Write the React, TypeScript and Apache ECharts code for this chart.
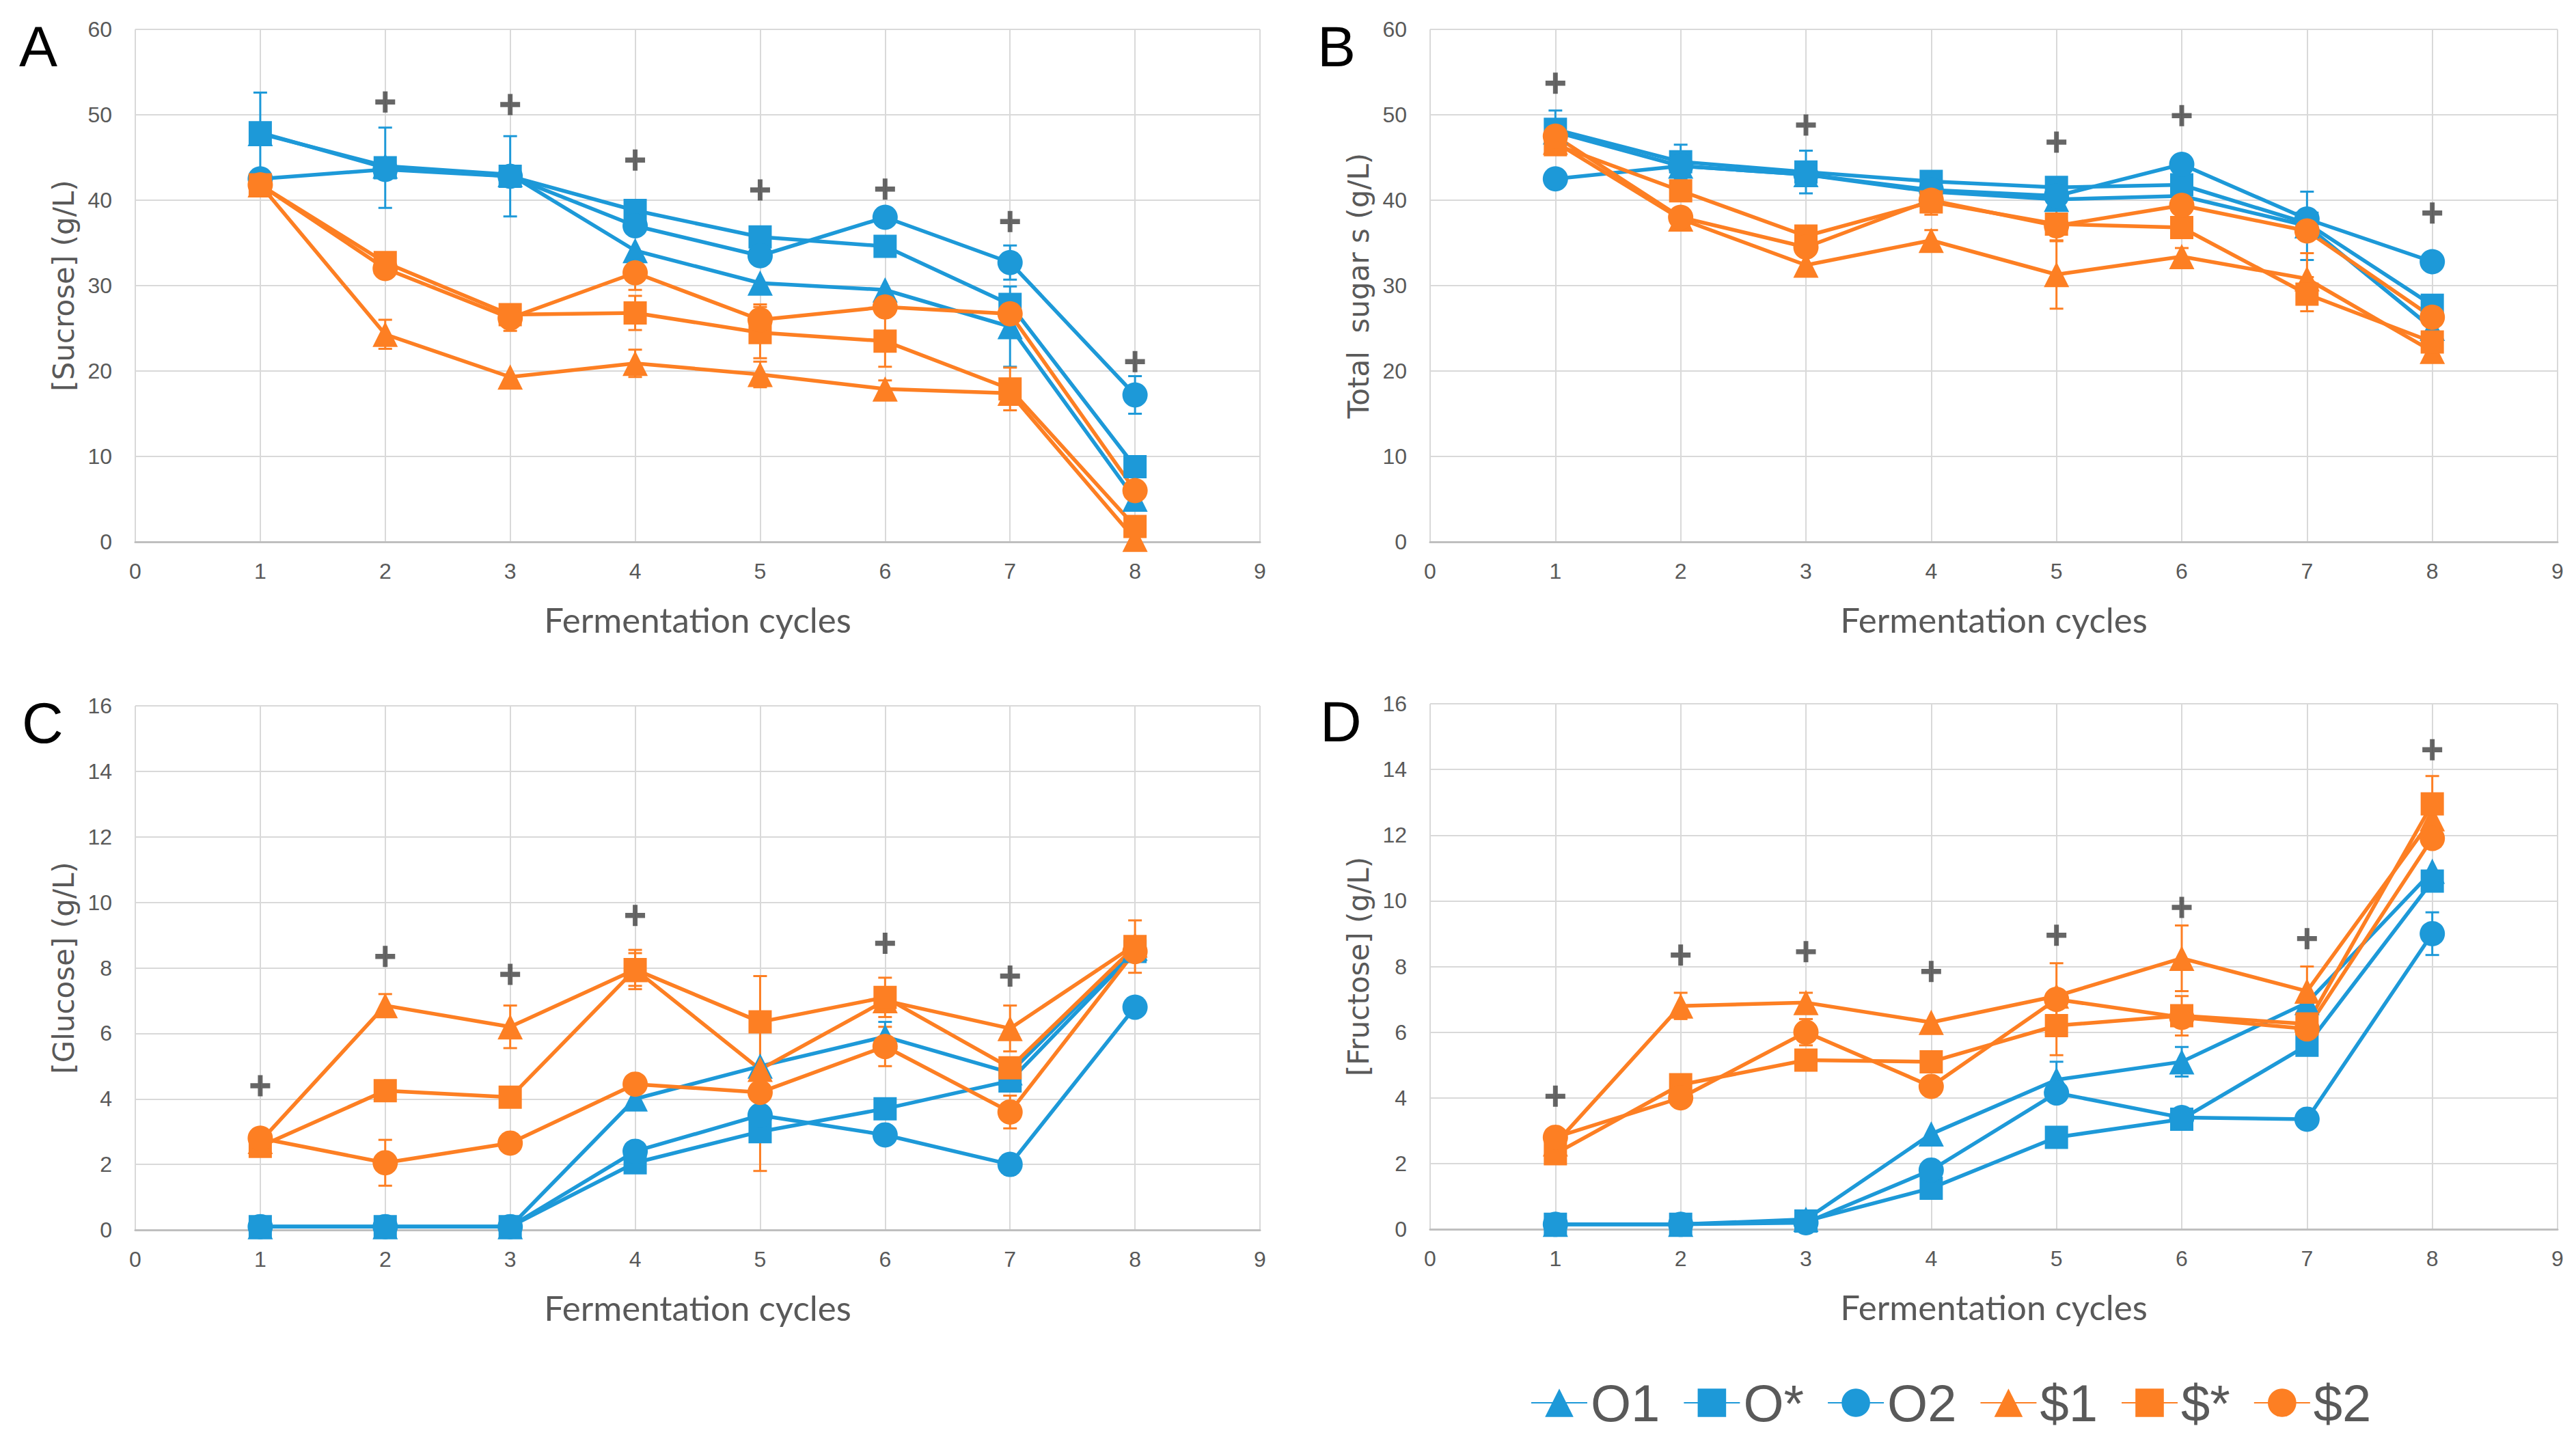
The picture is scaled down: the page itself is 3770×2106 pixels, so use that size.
import React, { useEffect, useRef } from "react";
import * as echarts from "echarts";

const cycles = [1, 2, 3, 4, 5, 6, 7, 8];
const seriesNames = ["O1", "O*", "O2", "$1", "$*", "$2"];
const xTicksMax = 9;

// Panel A: sucrose
const sucO1 = [47.8, 44.0, 43.0, 34.1, 30.3, 29.5, 25.2, 5.0];
const sucOs = [47.9, 43.8, 42.8, 38.8, 35.7, 34.6, 27.8, 8.8];
const sucO2 = [42.5, 43.6, 42.8, 37.0, 33.5, 38.0, 32.7, 17.2];
const suc$1 = [41.8, 24.3, 19.3, 20.9, 19.6, 17.9, 17.4, 0.3];
const suc$s = [41.8, 32.7, 26.6, 26.8, 24.5, 23.5, 17.9, 1.8];
const suc$2 = [41.8, 32.0, 26.2, 31.5, 26.0, 27.5, 26.7, 6.0];
const sucErrO1 = [0, 0, 0, 0, 0, 0, 4.7, 0];
const sucErrOs = [4.7, 4.7, 4.7, 0, 0, 0, 0, 0];
const sucErrO2 = [0, 0, 0, 0, 0, 0, 2.0, 2.2];
const sucErr$1 = [0, 1.7, 0, 1.6, 1.5, 1.0, 0, 0];
const sucErr$s = [0, 0, 0, 2.0, 3.0, 3.0, 2.5, 0];
const sucErr$2 = [0, 0, 1.5, 2.0, 1.8, 1.0, 0, 0];
const sucPlus = [[2, 51.5], [3, 51.2], [4, 44.7], [5, 41.2], [6, 41.3], [7, 37.5], [8, 21.1]];

// Panel B: total sugars
const totO1 = [48.0, 44.0, 43.0, 41.0, 40.1, 40.5, 37.0, 25.0];
const totOs = [48.3, 44.5, 43.3, 42.2, 41.5, 41.8, 37.3, 27.7];
const totO2 = [42.5, 44.0, 43.0, 41.2, 40.5, 44.2, 37.8, 32.8];
const tot$1 = [46.8, 37.8, 32.4, 35.3, 31.3, 33.4, 30.8, 22.3];
const tot$s = [46.5, 41.1, 35.8, 39.8, 37.2, 36.8, 29.0, 23.4];
const tot$2 = [47.5, 38.0, 34.5, 40.0, 37.0, 39.4, 36.4, 26.3];
const totErrO1 = [0, 0, 0, 0, 0, 0, 4.0, 0];
const totErrOs = [2.2, 2.0, 2.5, 0, 0, 0, 0, 0];
const totErrO2 = [0, 0, 0, 0, 0, 0, 0, 0];
const totErr$1 = [0, 0, 0, 1.2, 4.0, 1.0, 3.0, 0];
const totErr$s = [0, 0, 0, 1.5, 2.0, 0, 2.0, 0];
const totErr$2 = [0, 0, 0, 0, 0, 0, 0, 0];
const totPlus = [[1, 53.7], [3, 48.8], [5, 46.8], [6, 49.9], [8, 38.5]];

// Panel C: glucose
const gluO1 = [0.1, 0.1, 0.1, 4.0, 5.0, 5.9, 4.8, 8.6];
const gluOs = [0.1, 0.1, 0.1, 2.05, 3.0, 3.7, 4.55, 8.5];
const gluO2 = [0.1, 0.1, 0.1, 2.4, 3.5, 2.9, 2.0, 6.8];
const glu$1 = [2.7, 6.85, 6.2, 7.95, 4.9, 7.0, 6.15, 8.7];
const glu$s = [2.55, 4.25, 4.05, 7.95, 6.35, 7.1, 4.95, 8.65];
const glu$2 = [2.8, 2.05, 2.65, 4.45, 4.2, 5.6, 3.6, 8.5];
const gluErrO1 = [0, 0, 0, 0, 0, 0.45, 0, 0];
const gluErrOs = [0, 0, 0, 0, 0, 0, 0, 0];
const gluErrO2 = [0, 0, 0, 0, 0, 0, 0, 0];
const gluErr$1 = [0, 0.35, 0.65, 0.5, 0, 0, 0.7, 0];
const gluErr$s = [0, 0, 0, 0.6, 1.4, 0.6, 0, 0.8];
const gluErr$2 = [0, 0.7, 0, 0, 2.4, 0.6, 0.5, 0];
const gluPlus = [[1, 4.4], [2, 8.35], [3, 7.8], [4, 9.6], [6, 8.75], [7, 7.75]];

// Panel D: fructose
const fruO1 = [0.15, 0.15, 0.3, 2.9, 4.55, 5.1, 6.9, 10.9];
const fruOs = [0.15, 0.15, 0.25, 1.25, 2.8, 3.35, 5.6, 10.6];
const fruO2 = [0.15, 0.15, 0.2, 1.8, 4.15, 3.4, 3.35, 9.0];
const fru$1 = [2.6, 6.8, 6.9, 6.3, 7.1, 8.25, 7.25, 12.5];
const fru$s = [2.3, 4.4, 5.15, 5.1, 6.2, 6.5, 6.25, 12.95];
const fru$2 = [2.8, 4.0, 6.0, 4.35, 7.0, 6.45, 6.1, 11.9];
const fruErrO1 = [0, 0, 0, 0, 0.55, 0.45, 0, 0];
const fruErrOs = [0, 0, 0, 0, 0, 0, 0, 0];
const fruErrO2 = [0, 0, 0, 0, 0, 0, 0.2, 0.65];
const fruErr$1 = [0, 0.4, 0.3, 0, 1.0, 1.0, 0.75, 0];
const fruErr$s = [0, 0, 0, 0, 0.9, 0.6, 0.9, 0.85];
const fruErr$2 = [0, 0, 0.4, 0, 0, 0, 0, 0];
const fruPlus = [[1, 4.05], [2, 8.35], [3, 8.45], [4, 7.85], [5, 8.95], [6, 9.8], [7, 8.85], [8, 14.6]];

const panelLetters = ["A", "B", "C", "D"];
const yNames = ["[Sucrose] (g/L)", "Total  sugar s (g/L)", "[Glucose] (g/L)", "[Fructose] (g/L)"];
const yMax = [60, 60, 16, 16];
const yInterval = [10, 10, 2, 2];

const BLUE = "#1D99D8";
const ORANGE = "#FD7F23";
const colors = [BLUE, BLUE, BLUE, ORANGE, ORANGE, ORANGE];
const symbols = ["triangle", "rect", "circle", "triangle", "rect", "circle"];

const panels = [
  { values: [sucO1, sucOs, sucO2, suc$1, suc$s, suc$2], errs: [sucErrO1, sucErrOs, sucErrO2, sucErr$1, sucErr$s, sucErr$2], plus: sucPlus },
  { values: [totO1, totOs, totO2, tot$1, tot$s, tot$2], errs: [totErrO1, totErrOs, totErrO2, totErr$1, totErr$s, totErr$2], plus: totPlus },
  { values: [gluO1, gluOs, gluO2, glu$1, glu$s, glu$2], errs: [gluErrO1, gluErrOs, gluErrO2, gluErr$1, gluErr$s, gluErr$2], plus: gluPlus },
  { values: [fruO1, fruOs, fruO2, fru$1, fru$s, fru$2], errs: [fruErrO1, fruErrOs, fruErrO2, fruErr$1, fruErr$s, fruErr$2], plus: fruPlus },
];

const grids = [
  { left: 198, top: 43, width: 1646, height: 750 },
  { left: 2093, top: 43, width: 1650, height: 750 },
  { left: 198, top: 1033, width: 1646, height: 767 },
  { left: 2093, top: 1030, width: 1650, height: 769 },
];
const letterPos = [
  [28, 26],
  [1928, 26],
  [32, 1016],
  [1932, 1014],
];

const PLUS = "path://M38,0H62V38H100V62H62V100H38V62H0V38H38Z";

export default function App() {
  const ref = useRef<HTMLDivElement>(null);
  useEffect(() => {
    document.body.style.margin = "0";
    const chart = echarts.init(ref.current!, null, { renderer: "svg" });
    const series: any[] = [];
    panels.forEach((p, gi) => {
      const errData: any[] = [];
      p.errs.forEach((arr, si) => {
        arr.forEach((e, i) => {
          if (e > 0) errData.push([cycles[i], p.values[si][i] - e, p.values[si][i] + e, si]);
        });
      });
      series.push({
        type: "custom",
        xAxisIndex: gi,
        yAxisIndex: gi,
        z: 1,
        silent: true,
        encode: { x: 0, y: [1, 2] },
        data: errData,
        renderItem: (params: any, api: any) => {
          const x = api.value(0);
          const lo = api.coord([x, api.value(1)]);
          const hi = api.coord([x, api.value(2)]);
          const c = colors[api.value(3)];
          const w = 10;
          const st = { stroke: c, lineWidth: 3 };
          return {
            type: "group",
            children: [
              { type: "line", shape: { x1: lo[0], y1: lo[1], x2: hi[0], y2: hi[1] }, style: st },
              { type: "line", shape: { x1: hi[0] - w, y1: hi[1], x2: hi[0] + w, y2: hi[1] }, style: st },
              { type: "line", shape: { x1: lo[0] - w, y1: lo[1], x2: lo[0] + w, y2: lo[1] }, style: st },
            ],
          };
        },
      });
      p.values.forEach((vals, si) => {
        series.push({
          type: "line",
          name: seriesNames[si],
          xAxisIndex: gi,
          yAxisIndex: gi,
          z: 2,
          data: vals.map((v, i) => [cycles[i], v]),
          symbol: symbols[si],
          symbolSize: si % 3 === 1 ? 34 : 37,
          showSymbol: true,
          lineStyle: { color: colors[si], width: 5.5 },
          itemStyle: { color: colors[si] },
        });
      });
      series.push({
        type: "scatter",
        xAxisIndex: gi,
        yAxisIndex: gi,
        z: 3,
        silent: true,
        symbol: PLUS,
        symbolSize: [29, 31],
        itemStyle: { color: "#404040" },
        data: p.plus,
      });
    });

    const option: any = {
      animation: false,
      backgroundColor: "#ffffff",
      grid: grids,
      xAxis: grids.map((_, gi) => ({
        gridIndex: gi,
        type: "value",
        min: 0,
        max: xTicksMax,
        interval: 1,
        axisLine: { show: true, onZero: false, lineStyle: { color: "#bfbfbf", width: 3 } },
        axisTick: { show: false },
        axisLabel: { fontSize: 32, color: "#595959", margin: 27, fontFamily: "Liberation Sans" },
        splitLine: { show: true, lineStyle: { color: "#d9d9d9", width: 2 } },
        name: "Fermentation cycles",
        nameLocation: "middle",
        nameGap: 88,
        nameTextStyle: { fontSize: 51, color: "#595959", fontFamily: "Lato" },
      })),
      yAxis: grids.map((_, gi) => ({
        gridIndex: gi,
        type: "value",
        min: 0,
        max: yMax[gi],
        interval: yInterval[gi],
        axisLine: { show: false },
        axisTick: { show: false },
        axisLabel: { fontSize: 32, color: "#595959", margin: 34, fontFamily: "Liberation Sans" },
        splitLine: { show: true, lineStyle: { color: "#d9d9d9", width: 2 } },
        name: yNames[gi],
        nameLocation: "middle",
        nameGap: 84,
        nameTextStyle: { fontSize: 42, color: "#595959", fontFamily: "DejaVu Sans" },
      })),
      legend: {
        data: seriesNames,
        left: 2235,
        top: 2010,
        itemWidth: 82,
        itemHeight: 52,
        itemGap: 34,
        textStyle: { fontSize: 76, color: "#595959", fontFamily: "Liberation Sans" },
      },
      graphic: panelLetters.map((t, i) => ({
        type: "text",
        left: letterPos[i][0],
        top: letterPos[i][1],
        style: { text: t, fontSize: 84, fill: "#000000", fontFamily: "Liberation Sans" },
      })),
      series,
    };
    chart.setOption(option);
    return () => chart.dispose();
  }, []);
  return <div ref={ref} style={{ width: 3770, height: 2106 }} />;
}
